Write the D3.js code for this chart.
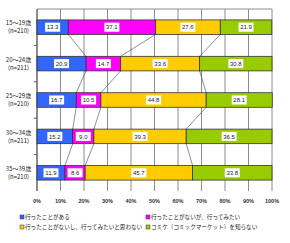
<!DOCTYPE html>
<html>
<head>
<meta charset="utf-8">
<script src="https://cdn.jsdelivr.net/npm/d3@7"></script>
<style>
  body { margin: 0; background: #fff; }
  svg { display: block; font-family: "Noto Sans CJK JP", sans-serif; }
</style>
</head>
<body>
<div id="chart"></div>
<script>
// data
var categories = ["15～19歳", "20～24歳", "25～29歳", "30～34歳", "35～39歳"];
var sampleSizes = ["(n=210)", "(n=211)", "(n=210)", "(n=211)", "(n=210)"];
var seriesNames = [
    "行ったことがある",
    "行ったことがないが、行ってみたい",
    "行ったことがないし、行ってみたいと思わない",
    "コミケ（コミックマーケット）を知らない"
];
var visited    = [13.3, 20.9, 16.7, 15.2, 11.9];
var wantToGo   = [37.1, 14.7, 10.5, 9.0, 8.6];
var dontWant   = [27.6, 33.6, 44.8, 39.3, 45.7];
var dontKnow   = [21.9, 30.8, 28.1, 36.5, 33.8];
var tickValues = [0, 10, 20, 30, 40, 50, 60, 70, 80, 90, 100];

var colors = ["#3366ff", "#ff00ff", "#ffcc00", "#99cc00"];
var series = [visited, wantToGo, dontWant, dontKnow];

var width = 290, height = 243;
var svg = d3.select("#chart").append("svg")
    .attr("width", width)
    .attr("height", height);

var x = d3.scaleLinear().domain([0, 100]).range([37, 272]);
var y = d3.scaleBand().domain(categories).range([9, 191])
    .paddingInner(0.6).paddingOuter(0.3);
var bw = y.bandwidth();

// stacked rows
var rows = categories.map(function(c, i) {
    var acc = 0;
    var segs = series.map(function(s, k) {
        var seg = {cat: c, k: k, x0: acc, x1: acc + s[i], v: s[i]};
        acc += s[i];
        return seg;
    });
    return segs;
});

// grid
svg.append("g").selectAll("line")
    .data(tickValues)
    .enter().append("line")
    .attr("x1", function(d) { return x(d); })
    .attr("x2", function(d) { return x(d); })
    .attr("y1", 9)
    .attr("y2", 191)
    .attr("stroke", "#8c8c8c")
    .attr("stroke-width", 1);

svg.append("line")
    .attr("x1", x(0)).attr("x2", x(100))
    .attr("y1", 9).attr("y2", 9)
    .attr("stroke", "#8c8c8c");

// left axis + small ticks between bands
svg.append("line")
    .attr("x1", x(0)).attr("x2", x(0))
    .attr("y1", 9).attr("y2", 191)
    .attr("stroke", "#555");
svg.append("g").selectAll("line")
    .data(d3.range(1, categories.length))
    .enter().append("line")
    .attr("x1", x(0) - 3).attr("x2", x(0))
    .attr("y1", function(d) { return 9 + d * y.step(); })
    .attr("y2", function(d) { return 9 + d * y.step(); })
    .attr("stroke", "#555");

// series lines between bars
for (var i = 0; i < categories.length - 1; i++) {
    for (var k = 0; k < 3; k++) {
        svg.append("line")
            .attr("x1", x(rows[i][k].x1))
            .attr("y1", y(categories[i]) + bw)
            .attr("x2", x(rows[i + 1][k].x1))
            .attr("y2", y(categories[i + 1]))
            .attr("stroke", "#444")
            .attr("stroke-width", 0.6);
    }
}

// bars
var rowG = svg.append("g").selectAll("g")
    .data(rows)
    .enter().append("g");

rowG.selectAll("rect")
    .data(function(d) { return d; })
    .enter().append("rect")
    .attr("x", function(d) { return x(d.x0); })
    .attr("y", function(d) { return y(d.cat); })
    .attr("width", function(d) { return x(d.x1) - x(d.x0); })
    .attr("height", bw)
    .attr("fill", function(d) { return colors[d.k]; })
    .attr("stroke", "#333")
    .attr("stroke-width", 0.8);

// value labels in white boxes
var labG = rowG.selectAll("g.lab")
    .data(function(d) { return d; })
    .enter().append("g")
    .attr("class", "lab")
    .attr("transform", function(d) {
        return "translate(" + x((d.x0 + d.x1) / 2) + "," + (y(d.cat) + bw / 2) + ")";
    });
labG.append("rect")
    .attr("x", -7.5).attr("y", -4.5)
    .attr("width", 15).attr("height", 9)
    .attr("fill", "#fff");
labG.append("text")
    .attr("text-anchor", "middle")
    .attr("dy", "0.35em")
    .style("font-size", "6px")
    .style("font-family", "Arial, 'Liberation Sans', sans-serif")
    .attr("fill", "#222")
    .text(function(d) { return d.v.toFixed(1); });

// category labels
var catG = svg.append("g").selectAll("g")
    .data(categories)
    .enter().append("g")
    .attr("transform", function(d) { return "translate(18.5," + (y(d) + bw / 2) + ")"; });
catG.append("text")
    .attr("text-anchor", "middle")
    .attr("y", -4).attr("dy", "0.35em")
    .style("font-size", "6px")
    .attr("fill", "#222")
    .text(function(d) { return d; });
catG.append("text")
    .attr("text-anchor", "middle")
    .attr("y", 4).attr("dy", "0.35em")
    .style("font-size", "6px")
    .attr("fill", "#222")
    .text(function(d, i) { return sampleSizes[i]; });

// x tick labels
svg.append("g").selectAll("text")
    .data(tickValues)
    .enter().append("text")
    .attr("x", function(d) { return x(d); })
    .attr("y", 201)
    .attr("dy", "0.35em")
    .attr("text-anchor", "middle")
    .style("font-size", "5.5px")
    .style("font-weight", "bold")
    .style("font-family", "Arial, 'Liberation Sans', sans-serif")
    .attr("fill", "#333")
    .text(function(d) { return d + "%"; });

// legend
var legPos = [[20, 217], [146, 217], [20, 227], [146, 227]];
var leg = svg.append("g").selectAll("g")
    .data(seriesNames)
    .enter().append("g")
    .attr("transform", function(d, i) { return "translate(" + legPos[i][0] + "," + legPos[i][1] + ")"; });
leg.append("rect")
    .attr("x", 0).attr("y", -2)
    .attr("width", 4).attr("height", 4)
    .attr("fill", function(d, i) { return colors[i]; })
    .attr("stroke", "#333")
    .attr("stroke-width", 0.5);
leg.append("text")
    .attr("x", 5)
    .attr("dy", "0.35em")
    .style("font-size", "5.6px")
    .attr("fill", "#222")
    .text(function(d) { return d; });
</script>
</body>
</html>
